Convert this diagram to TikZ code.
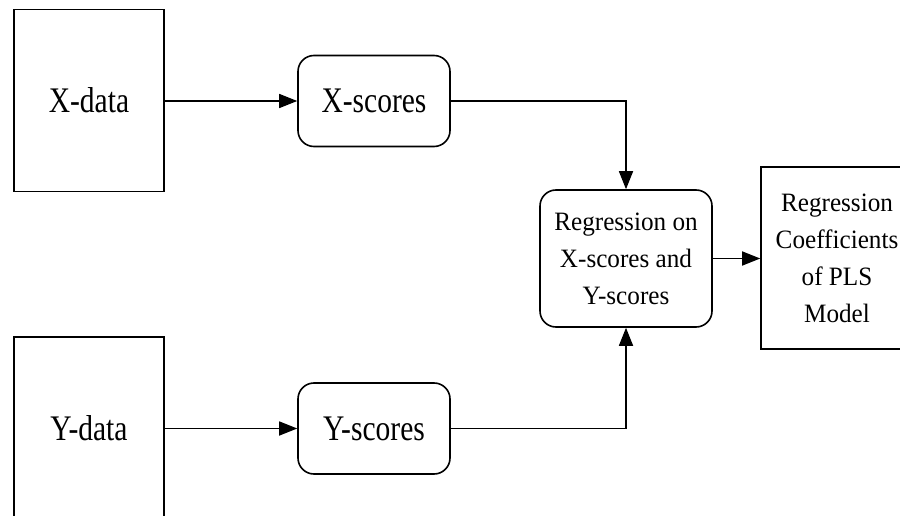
\documentclass[tikz,border=0pt]{standalone}
\usepackage{fontspec}
\setmainfont{Liberation Serif}
\newfontfamily\bigfont[FakeStretch=0.82]{Liberation Serif}
\newfontfamily\smallfont[FakeStretch=0.95]{Liberation Serif}
\usetikzlibrary{arrows.meta}
\begin{document}
\begin{tikzpicture}[x=1pt,y=-1pt,
  base/.style={draw=black,line width=1.6pt,inner sep=0pt,align=center},
  databox/.style={base,minimum width=150pt,minimum height=182pt,font=\bigfont\fontsize{36}{40}\selectfont},
  scorebox/.style={base,rounded corners=16pt,minimum width=152pt,minimum height=91pt,font=\bigfont\fontsize{36}{40}\selectfont},
  regbox/.style={base,rounded corners=16pt,minimum width=172pt,minimum height=137pt,font=\smallfont\fontsize{26.5}{37}\selectfont},
  coefbox/.style={base,minimum width=152pt,minimum height=182pt,font=\smallfont\fontsize{26.5}{37}\selectfont},
  conn/.style={line width=1.6pt,-{Triangle[length=18pt,width=14pt]}}]
\useasboundingbox (0,0) rectangle (900,516);
\clip (0,0) rectangle (900,516);
\fill[white] (0,0) rectangle (900,516);
\node[databox] (xd) at (89,100.5) {X-data};
\node[databox] (yd) at (89,428) {Y-data};
\node[scorebox] (xs) at (374,101) {X-scores};
\node[scorebox] (ys) at (374,428.5) {Y-scores};
\node[regbox] (reg) at (626,258.5) {Regression on\\X-scores and\\Y-scores};
\node[coefbox] (coef) at (837,258) {Regression\\Coefficients\\of PLS\\Model};
\draw[conn] (xd.east |- xs.west) -- (xs.west);
\draw[conn] (yd.east |- ys.west) -- (ys.west);
\draw[conn] (xs.east) -| (reg.north);
\draw[conn] (ys.east) -| (reg.south);
\draw[conn] (reg.east) -- (coef.west |- reg.east);
\end{tikzpicture}
\end{document}
